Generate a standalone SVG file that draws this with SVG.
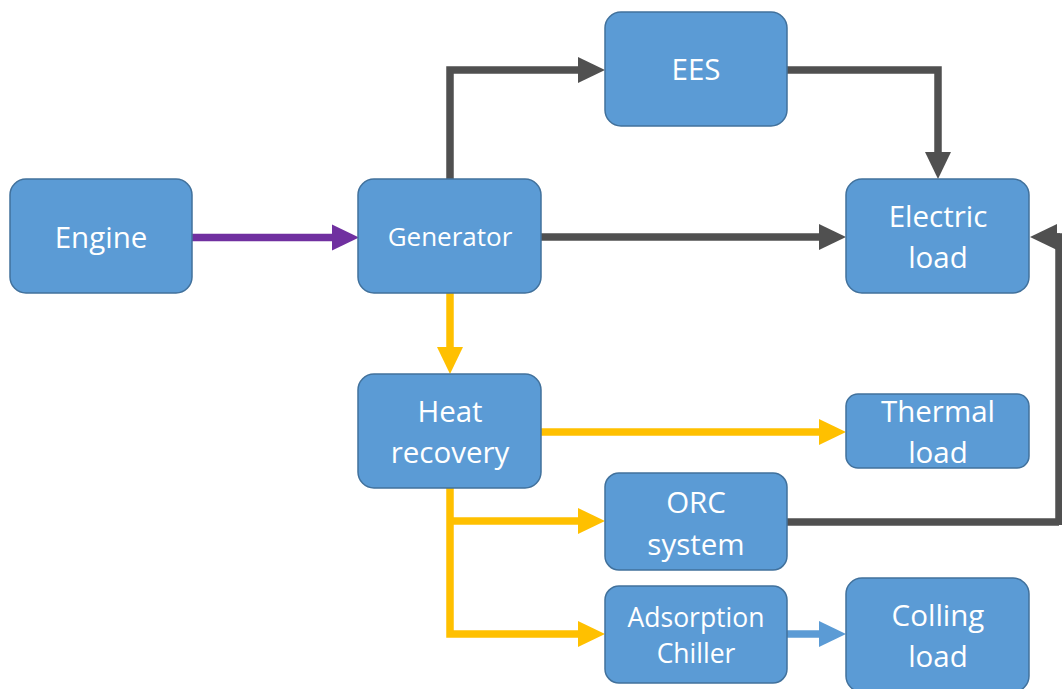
<svg xmlns="http://www.w3.org/2000/svg" width="1062" height="689" viewBox="0 0 1062 689">
<defs>
<style>
.node rect{fill:#5B9BD5;stroke:#41719C;stroke-width:1.5}
.node text{fill:#fff;font-family:"Open Sans","Liberation Sans",sans-serif;text-anchor:middle}
.big{font-size:29.5px}
.conn path{fill:none;stroke-width:7.5;stroke-linejoin:miter}
.gray{stroke:#505050}
.purple{stroke:#7030A0}
.yellow{stroke:#FFC000}
.blue{stroke:#5B9BD5}
</style>
<marker id="aGray" markerUnits="userSpaceOnUse" markerWidth="28" markerHeight="27" refX="0" refY="13" orient="auto" overflow="visible"><path d="M0,0 L27,13 L0,26 z" fill="#505050"/></marker>
<marker id="aPurple" markerUnits="userSpaceOnUse" markerWidth="28" markerHeight="27" refX="0" refY="13" orient="auto" overflow="visible"><path d="M0,0 L27,13 L0,26 z" fill="#7030A0"/></marker>
<marker id="aYellow" markerUnits="userSpaceOnUse" markerWidth="28" markerHeight="27" refX="0" refY="13" orient="auto" overflow="visible"><path d="M0,0 L27,13 L0,26 z" fill="#FFC000"/></marker>
<marker id="aBlue" markerUnits="userSpaceOnUse" markerWidth="28" markerHeight="27" refX="0" refY="13" orient="auto" overflow="visible"><path d="M0,0 L27,13 L0,26 z" fill="#5B9BD5"/></marker>
</defs>
<rect width="1062" height="689" fill="#fff"/>
<g id="connectors" class="conn">
<path class="purple" d="M192,237.5 H332" marker-end="url(#aPurple)"/>
<path class="gray" d="M450,179 V70 H578" marker-end="url(#aGray)"/>
<path class="gray" d="M787,70 H938 V152" marker-end="url(#aGray)"/>
<path class="gray" d="M541,237 H819" marker-end="url(#aGray)"/>
<path class="gray" d="M787,522 H1059"/>
<path d="M1059,525 V237 H1056" stroke="#505050" stroke-width="3.5" fill="none"/>
<path class="gray" d="M1060,237 H1056"/>
<polygon points="1030,237 1057,224 1057,250" fill="#505050"/>
<path class="yellow" d="M450,293 V347" marker-end="url(#aYellow)"/>
<path class="yellow" d="M541,432 H819" marker-end="url(#aYellow)"/>
<path class="yellow" d="M450,488 V634 H578" marker-end="url(#aYellow)"/>
<path class="yellow" d="M450,521 H578" marker-end="url(#aYellow)"/>
<path class="blue" d="M787,634 H819" marker-end="url(#aBlue)"/>
</g>
<g id="engine" class="node"><rect x="10" y="179" width="182" height="114" rx="16"/><text class="big" x="101" y="248">Engine</text></g>
<g id="generator" class="node"><rect x="358" y="179" width="183" height="114" rx="16"/><text x="450" y="246" font-size="26">Generator</text></g>
<g id="ees" class="node"><rect x="605" y="12" width="182" height="114" rx="16"/><text class="big" x="696" y="80">EES</text></g>
<g id="electric-load" class="node"><rect x="846" y="179" width="183" height="114" rx="16"/><text class="big" x="938" y="227">Electric</text><text class="big" x="938" y="268">load</text></g>
<g id="heat-recovery" class="node"><rect x="358" y="374" width="183" height="114" rx="16"/><text class="big" x="450" y="422">Heat</text><text class="big" x="450" y="463">recovery</text></g>
<g id="thermal-load" class="node"><rect x="846" y="394" width="183" height="74" rx="12"/><text class="big" x="938" y="422">Thermal</text><text class="big" x="938" y="463">load</text></g>
<g id="orc-system" class="node"><rect x="605" y="473" width="182" height="97" rx="14"/><text class="big" x="696" y="513">ORC</text><text class="big" x="696" y="555">system</text></g>
<g id="adsorption-chiller" class="node"><rect x="605" y="586" width="182" height="97" rx="14"/><text x="696" y="627" font-size="26.5">Adsorption</text><text x="696" y="663" font-size="26.5">Chiller</text></g>
<g id="colling-load" class="node"><rect x="846" y="578" width="183" height="114" rx="16"/><text class="big" x="938" y="626">Colling</text><text class="big" x="938" y="667">load</text></g>
</svg>
